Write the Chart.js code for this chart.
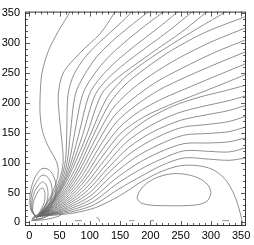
<!DOCTYPE html>
<html>
<head>
<meta charset="utf-8">
<script src="https://cdn.jsdelivr.net/npm/chart.js@4/dist/chart.umd.min.js"></script>
<style>
  html, body { margin: 0; padding: 0; background: #fff; }
  #wrap { width: 254px; height: 245px; }
</style>
</head>
<body>
<div id="wrap"><canvas id="myChart" width="254" height="245"></canvas></div>
<script>
// tick labels of both axes
const xTicks = [0, 50, 100, 150, 200, 250, 300, 350];
const yTicks = [0, 50, 100, 150, 200, 250, 300, 350];

// contour lines, [x, y] in data units
// left lines going to the top
const lineA = [[14,10],[36,45],[46,72],[48,88],[44,104],[32,126],[22,152],[18,180],[18,212],[21,250],[32,288],[48,320],[66,350],[72,362]];
const lineB = [[14,10],[37,43],[50,72],[56,100],[54,135],[50,175],[48,214],[56,250],[84,284],[117,316],[140,350],[146,362]];
const lineT1 = [[14,10],[39,41],[53,74],[60,105],[62,150],[64,214],[74,248],[95,280],[125,310],[152,335],[170,353],[178,362]];
const lineT2 = [[14,10],[40,40],[55,73],[63,103],[68,150],[76,214],[90,245],[112,278],[142,308],[172,333],[197,353],[207,362]];
const lineT3 = [[14,10],[40,38],[57,72],[66,101],[75,150],[88,214],[105,245],[128,274],[158,302],[192,330],[222,353],[233,362]];
const lineT4 = [[14,10],[40,37],[58,70],[69,100],[82,148],[99,214],[118,243],[144,270],[176,297],[212,325],[246,353],[258,362]];
const lineT5 = [[14,10],[40,35],[59,68],[72,99],[88,146],[109,214],[130,241],[158,266],[192,292],[232,322],[270,353],[282,362]];
const lineT6 = [[14,10],[40,34],[60,66],[75,98],[94,144],[119,214],[142,239],[172,262],[208,288],[252,319],[294,353],[306,362]];
// fan lines going to the right edge
const lineR1 = [[14,10],[40,32],[61,62],[80,98],[103,152],[128,208],[155,240],[190,268],[235,298],[280,326],[325,353],[338,362]];
const lineR2 = [[14,10],[40,31],[62,58],[82,93],[106,146],[132,198],[158,230],[192,258],[235,288],[290,318],[358,345],[370,350]];
const lineR3 = [[14,10],[40,29],[63,55],[84,89],[109,139],[136,188],[164,218],[200,246],[245,274],[300,302],[358,326],[370,331]];
const lineR4 = [[14,10],[40,28],[64,52],[86,84],[112,132],[140,178],[170,206],[208,234],[252,258],[305,284],[358,306],[370,311]];
const lineR5 = [[14,10],[40,26],[65,49],[88,79],[115,125],[144,168],[176,196],[215,222],[260,244],[310,266],[358,286],[370,291]];
const lineR6 = [[14,10],[40,25],[66,46],[90,74],[118,118],[148,158],[182,186],[222,208],[268,228],[315,248],[358,266],[370,271]];
const lineR7 = [[14,10],[40,23],[67,43],[92,70],[121,111],[152,150],[188,176],[230,196],[275,214],[320,232],[358,248],[370,253]];
const lineR8 = [[14,10],[40,22],[68,40],[94,65],[124,104],[156,142],[194,172],[238,195],[282,210],[322,220],[358,230],[370,234]];
const lineR9 = [[14,10],[40,20],[69,37],[96,60],[127,97],[160,134],[200,162],[245,183],[290,195],[326,203],[358,212],[370,216]];
const lineR10 = [[14,10],[40,19],[70,34],[98,55],[130,91],[165,126],[205,152],[250,171],[292,180],[328,187],[358,196],[370,200]];
const lineR11 = [[14,10],[40,17],[71,31],[100,50],[133,85],[170,118],[210,142],[252,159],[294,164],[330,169],[358,178],[370,182]];
const lineR12 = [[14,10],[40,16],[72,28],[102,45],[136,78],[174,108],[214,130],[255,146],[296,149],[330,152],[358,160],[370,164]];
const lineR13 = [[14,10],[40,15],[73,25],[104,40],[140,71],[178,98],[216,118],[256,132],[296,133],[330,135],[358,142],[370,146]];
const lineR14 = [[14,10],[40,14],[74,22],[106,35],[144,64],[182,88],[218,106],[256,120],[296,119],[330,118],[358,125],[370,129]];
const lineR15 = [[14,10],[40,13],[75,19],[108,30],[148,56],[186,78],[220,96],[256,108],[296,106],[330,104],[358,108],[370,111]];
// lowest line that turns down to the bottom edge
const lineC0 = [[14,10],[40,12],[75,16],[110,25],[150,45],[185,68],[220,86],[250,95],[278,95],[302,89],[322,74],[336,52],[345,28],[351,5],[353,-8]];
// lobes around the white egg near the origin
const lobe1 = [[12,8],[3,20],[1,42],[5,64],[12,80],[21,90],[31,89],[39,80],[44,64],[43,44],[35,26],[23,13],[12,8]];
const lobe2 = [[12,8],[4,20],[3,40],[7,58],[14,71],[21,79],[29,77],[35,68],[38,53],[35,35],[27,20],[12,8]];
const lobe3 = [[12,8],[5,20],[5,37],[9,52],[16,63],[22,68],[28,63],[31,50],[29,34],[22,20],[12,8]];
const lobe4 = [[12,8],[6,19],[7,34],[12,47],[18,56],[23,57],[26,48],[25,34],[19,21],[12,8]];
// small rings in the dark spot
const ring1 = [[6,4],[20,6],[34,14],[30,18],[16,14],[6,8],[6,4]];
const ring2 = [[8,5],[24,8],[40,17],[34,20],[18,15],[8,8],[8,5]];
const ring3 = [[4,3],[28,5],[52,12],[46,16],[22,12],[6,7],[4,3]];
// closed loop on the right
const loopRight = [[178,40],[184,33],[200,29],[225,28],[255,28],[280,30],[294,36],[300,50],[294,64],[278,75],[255,81],[232,81],[208,74],[190,62],[181,50],[178,40]];
// short pieces along the bottom
const dash1 = [[75,3],[87,3]];
const hook1 = [[111,8],[115,6],[116,1]];
const dash2 = [[165,3],[174,3]];
const dash3 = [[200,3],[206,3]];
const dash4 = [[319,3],[330,3]];

const contours = [lineA, lineB, lineT1, lineT2, lineT3, lineT4, lineT5, lineT6,
  lineR1, lineR2, lineR3, lineR4, lineR5, lineR6, lineR7, lineR8, lineR9, lineR10,
  lineR11, lineR12, lineR13, lineR14, lineR15, lineC0,
  lobe1, lobe2, lobe3, lobe4, ring1, ring2, ring3, loopRight, dash1, hook1, dash2, dash3, dash4];

const datasets = contours.map((pts) => ({
  data: pts.map((p) => ({ x: p[0], y: p[1] })),
  showLine: true,
  borderColor: "rgb(105,105,105)",
  borderWidth: 0.75,
  pointRadius: 0,
  tension: 0.3,
  fill: false,
}));

// frame and inward ticks on all four sides
const frameTicks = {
  id: "frameTicks",
  afterDraw(chart) {
    const { ctx, chartArea: a, scales } = chart;
    ctx.save();
    ctx.strokeStyle = "#333";
    ctx.lineWidth = 1;
    ctx.strokeRect(a.left + 0.5, a.top + 0.5, a.right - a.left - 1, a.bottom - a.top - 1);
    ctx.lineWidth = 0.8;
    ctx.beginPath();
    for (let v = 0; v <= 350; v += 10) {
      const len = v % 50 === 0 ? 5 : 3;
      const px = Math.round(scales.x.getPixelForValue(v)) + 0.5;
      ctx.moveTo(px, a.bottom); ctx.lineTo(px, a.bottom - len);
      ctx.moveTo(px, a.top); ctx.lineTo(px, a.top + len);
      const py = Math.round(scales.y.getPixelForValue(v)) + 0.5;
      ctx.moveTo(a.left, py); ctx.lineTo(a.left + len, py);
      ctx.moveTo(a.right, py); ctx.lineTo(a.right - len, py);
    }
    ctx.stroke();
    ctx.restore();
  },
};

const config = {
  type: "scatter",
  data: { datasets: datasets },
  options: {
    responsive: false,
    animation: false,
    layout: { padding: { left: 0, top: 4, right: 8, bottom: 0 } },
    plugins: { legend: { display: false }, tooltip: { enabled: false } },
    scales: {
      x: {
        type: "linear",
        min: -7,
        max: 358,
        afterFit: (s) => { s.height = 19; },
        afterBuildTicks: (s) => { s.ticks = xTicks.map((v) => ({ value: v })); },
        grid: { display: false, drawTicks: false },
        border: { display: false },
        ticks: { padding: 3, color: "#000", font: { family: "Liberation Sans", size: 11 } },
      },
      y: {
        type: "linear",
        min: -6,
        max: 353,
        afterFit: (s) => { s.width = 25; },
        afterBuildTicks: (s) => { s.ticks = yTicks.map((v) => ({ value: v })); },
        grid: { display: false, drawTicks: false },
        border: { display: false },
        ticks: { padding: 5, color: "#000", font: { family: "Liberation Sans", size: 11 } },
      },
    },
  },
  plugins: [frameTicks],
};

const myChart = new Chart(document.getElementById("myChart"), config);
</script>
</body>
</html>
